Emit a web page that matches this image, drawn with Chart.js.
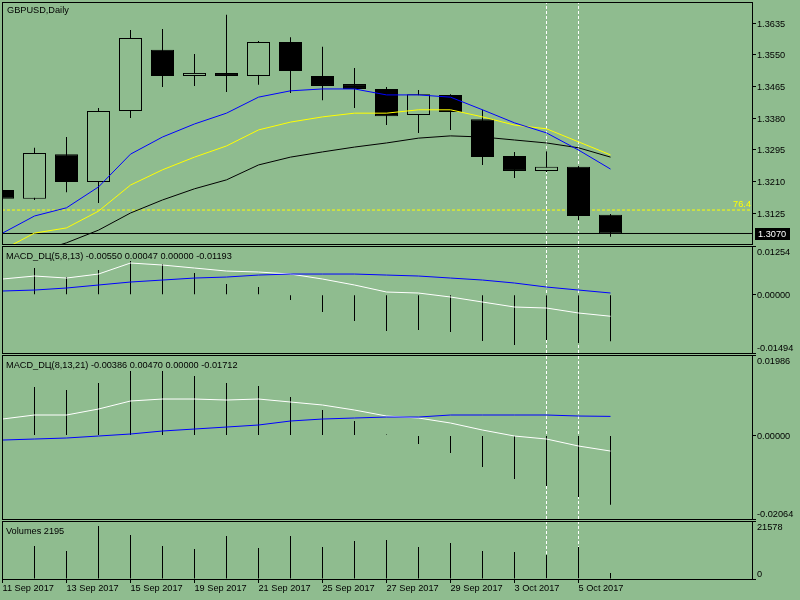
<!DOCTYPE html>
<html>
<head>
<meta charset="utf-8">
<title>GBPUSD,Daily</title>
<script src="https://cdn.jsdelivr.net/npm/chart.js@4.4.1/dist/chart.umd.min.js"></script>
<style>
  html, body { margin: 0; padding: 0; background: #8fbc8f; }
  #wrap { position: relative; width: 800px; height: 600px; overflow: hidden; }
  #wrap canvas { position: absolute; left: 0; }
</style>
</head>
<body>
<div id="wrap">
  <canvas id="price" width="800" height="245" style="top:0px"></canvas>
  <canvas id="macd1" width="800" height="109" style="top:245px"></canvas>
  <canvas id="macd2" width="800" height="166" style="top:354px"></canvas>
  <canvas id="vol" width="800" height="80" style="top:520px"></canvas>
</div>
<script>
// daily bars
const dates = ['11 Sep 2017', '12 Sep 2017', '13 Sep 2017', '14 Sep 2017', '15 Sep 2017',
  '18 Sep 2017', '19 Sep 2017', '20 Sep 2017', '21 Sep 2017', '22 Sep 2017',
  '25 Sep 2017', '26 Sep 2017', '27 Sep 2017', '28 Sep 2017', '29 Sep 2017',
  '2 Oct 2017', '3 Oct 2017', '4 Oct 2017', '5 Oct 2017', '6 Oct 2017'];
const dateTicks = [0, 2, 4, 6, 8, 10, 12, 14, 16, 18];

const opens  = [1.3187, 1.3163, 1.3283, 1.3208, 1.3399, 1.3563, 1.3493, 1.3501, 1.3493, 1.3584,
  1.3493, 1.3471, 1.3458, 1.3388, 1.3442, 1.3377, 1.3278, 1.3238, 1.3249, 1.3120];
const highs  = [1.3192, 1.3300, 1.3329, 1.3407, 1.3616, 1.3619, 1.3552, 1.3657, 1.3587, 1.3597,
  1.3571, 1.3514, 1.3463, 1.3455, 1.3444, 1.3402, 1.3289, 1.3291, 1.3251, 1.3122];
const lows   = [1.3158, 1.3160, 1.3181, 1.3152, 1.3380, 1.3463, 1.3466, 1.3450, 1.3469, 1.3447,
  1.3428, 1.3407, 1.3361, 1.3340, 1.3348, 1.3254, 1.3219, 1.3235, 1.3106, 1.3061];
const closes = [1.3163, 1.3286, 1.3208, 1.3399, 1.3595, 1.3493, 1.3501, 1.3493, 1.3584, 1.3506,
  1.3466, 1.3458, 1.3385, 1.3444, 1.3396, 1.3275, 1.3238, 1.3249, 1.3117, 1.3070];

// moving averages
const maBlue   = [1.3071, 1.3117, 1.3139, 1.3195, 1.3283, 1.3329, 1.3364, 1.3393, 1.3436, 1.3453,
  1.3458, 1.3458, 1.3442, 1.3442, 1.3436, 1.3402, 1.3367, 1.3340, 1.3294, 1.3243];
const maYellow = [1.3026, 1.3071, 1.3085, 1.3130, 1.3200, 1.3241, 1.3275, 1.3305, 1.3348, 1.3369,
  1.3383, 1.3393, 1.3393, 1.3402, 1.3402, 1.3383, 1.3361, 1.3351, 1.3316, 1.3281];
const maBlack  = [1.2991, 1.3018, 1.3045, 1.3079, 1.3125, 1.3160, 1.3190, 1.3214, 1.3254, 1.3275,
  1.3289, 1.3302, 1.3313, 1.3326, 1.3332, 1.3329, 1.3321, 1.3313, 1.3300, 1.3275];

const priceTicks = [1.3125, 1.3210, 1.3295, 1.3380, 1.3465, 1.3550, 1.3635];
const fiboLevel = 1.3133;
const fiboLabel = '76.4';
const lastPrice = 1.3070;
const markedBars = [17, 18];

// MACD_DЦ(5,8,13)
const macd1Main   = [0.00406, 0.00483, 0.00431, 0.00534, 0.00817, 0.00765, 0.00688, 0.00611, 0.00586, 0.00534,
  0.00406, 0.00252, 0.00072, 0.00046, -0.00056, -0.00185, -0.00313, -0.00339, -0.00467, -0.00550];
const macd1Signal = [0.00098, 0.00123, 0.00175, 0.00252, 0.00329, 0.00380, 0.00431, 0.00457, 0.00508, 0.00534,
  0.00534, 0.00534, 0.00508, 0.00483, 0.00431, 0.00380, 0.00303, 0.00200, 0.00123, 0.00047];
const macd1Hist   = [0.00640, 0.00688, 0.00457, 0.00637, 0.00868, 0.00791, 0.00560, 0.00277, 0.00200, -0.00134,
  -0.00442, -0.00673, -0.00930, -0.00904, -0.00955, -0.01186, -0.01289, -0.01160, -0.01238, -0.01193];
const macd1Ticks = [0.01254, 0, -0.01494];

// MACD_DЦ(8,13,21)
const macd2Main   = [0.00405, 0.00504, 0.00504, 0.00652, 0.00850, 0.00899, 0.00899, 0.00874, 0.00899, 0.00825,
  0.00751, 0.00627, 0.00479, 0.00430, 0.00306, 0.00133, -0.00015, -0.00089, -0.00262, -0.00386];
const macd2Signal = [-0.00114, -0.00089, -0.00064, -0.00015, 0.00035, 0.00109, 0.00158, 0.00207, 0.00257, 0.00356,
  0.00405, 0.00430, 0.00454, 0.00454, 0.00504, 0.00504, 0.00504, 0.00504, 0.00479, 0.00470];
const macd2Hist   = [0.01250, 0.01195, 0.01121, 0.01294, 0.01590, 0.01590, 0.01467, 0.01294, 0.01220, 0.00948,
  0.00627, 0.00356, 0.00020, -0.00212, -0.00435, -0.00780, -0.01077, -0.01250, -0.01521, -0.01712];
const macd2Ticks = [0.01986, 0, -0.02064];

const volumes = [11000, 12276, 10416, 19716, 16368, 12276, 11160, 15996, 11532, 15996,
  11904, 14136, 14508, 11904, 13392, 10416, 10044, 8928, 11904, 2195];
const volTicks = [21578, 0];

const BG = '#8fbc8f';
const FAMILY = '"Liberation Sans", Arial, sans-serif';
const FONT = '9.2px ' + FAMILY;
// half a bar step of slack so 1px sticks land on whole pixels, 32px per bar
const X_MIN = -1 / 64;
const X_MAX = X_MIN + 750 / 32;

const f5 = v => v.toFixed(5);
const idx = dates.map((_, i) => i);
const pts = arr => arr.map((v, i) => ({x: i, y: v}));

function lineSet(arr, color, order) {
  return {type: 'line', data: pts(arr), borderColor: color, borderWidth: 1,
    pointRadius: 0, tension: 0, fill: false, order};
}
function stickSet(arr, order) {
  return {type: 'bar', data: pts(arr), backgroundColor: '#000', borderWidth: 0,
    barThickness: 1, grouped: false, inflateAmount: 0, order};
}
function hLine(level, color, dash, order) {
  return {type: 'line', data: [{x: X_MIN, y: level}, {x: X_MAX, y: level}], borderColor: color,
    borderWidth: 1, borderDash: dash, pointRadius: 0, order};
}
function markerSets(min, max) {
  return markedBars.map(b => ({type: 'line', data: [{x: b, y: min}, {x: b, y: max}],
    borderColor: '#fff', borderWidth: 1, borderDash: [3, 2], pointRadius: 0, order: 20}));
}

// frame, panel title, right axis labels
const panelDecor = {
  id: 'panelDecor',
  afterDraw(chart, args, opts) {
    const {ctx, chartArea: a} = chart;
    const y = chart.scales.y;
    ctx.save();
    ctx.strokeStyle = '#000';
    ctx.lineWidth = 1;
    ctx.strokeRect(a.left + 0.5, a.top + 0.5, a.right - a.left, a.bottom - a.top);
    ctx.font = FONT;
    ctx.fillStyle = '#000';
    ctx.textAlign = 'left';
    ctx.textBaseline = 'alphabetic';
    ctx.fillText(opts.title, a.left + opts.titleX, a.top + opts.titleY);
    opts.ticks.forEach(v => {
      const py = y.getPixelForValue(v);
      let off = 3.5;
      if (opts.inset && v === y.max) off = 9;
      if (opts.inset && v === y.min) off = -2;
      ctx.fillText(opts.fmt(v), a.right + 5, py + off);
    });
    if (opts.extra) opts.extra(chart, ctx);
    ctx.restore();
  }
};

function xScale(show) {
  return {
    type: 'linear', min: X_MIN, max: X_MAX, display: show, position: 'bottom',
    offset: false,
    afterBuildTicks: s => { s.ticks = dateTicks.map(v => ({value: v})); },
    afterFit: s => { s.height = show ? 21 : 0; },
    grid: {drawOnChartArea: false, drawTicks: true, tickLength: 4, color: '#000', offset: false},
    border: {display: false},
    ticks: {callback: v => dates[v], align: 'start', maxRotation: 0, minRotation: 0,
      autoSkip: false, padding: 0, color: '#000', font: {family: FAMILY, size: 9.2}}
  };
}
function yScale(min, max, ticks) {
  return {
    type: 'linear', position: 'right', min, max,
    afterBuildTicks: s => { s.ticks = ticks.map(v => ({value: v})); },
    afterFit: s => { s.width = 48; },
    grid: {drawOnChartArea: false, drawTicks: true, tickLength: 4, color: '#000'},
    border: {display: false},
    ticks: {display: false}
  };
}
function makePanel(id, datasets, y, showX, pad, decor) {
  return new Chart(document.getElementById(id), {
    type: 'bar',
    data: {datasets},
    options: {
      responsive: false, animation: false, events: [], devicePixelRatio: 1,
      layout: {padding: {left: 2, right: 0, top: pad[0], bottom: pad[1]}},
      scales: {x: xScale(showX), y},
      plugins: {legend: {display: false}, tooltip: {enabled: false}, panelDecor: decor}
    },
    plugins: [panelDecor]
  });
}

// price panel
const P_MIN = 1.30418, P_MAX = 1.36914;
makePanel('price', [
  lineSet(maBlue, '#0000ff', 1),
  lineSet(maYellow, '#ffff00', 2),
  lineSet(maBlack, '#000000', 3),
  {type: 'bar', data: idx.map(i => ({x: i, y: [opens[i], closes[i]]})),
    backgroundColor: idx.map(i => closes[i] < opens[i] ? '#000' : BG),
    borderColor: '#000', borderWidth: 1, borderSkipped: false,
    barThickness: 23, grouped: false, inflateAmount: 0, order: 5},
  {type: 'bar', data: idx.map(i => ({x: i, y: [lows[i], highs[i]]})),
    backgroundColor: '#000', borderWidth: 0, barThickness: 1, grouped: false, inflateAmount: 0, order: 6},
  hLine(fiboLevel, '#ffff00', [3, 2], 8),
  hLine(lastPrice, '#000000', [], 8),
  ...markerSets(P_MIN, P_MAX)
], yScale(P_MIN, P_MAX, priceTicks), false, [2, 1], {
  title: 'GBPUSD,Daily', titleX: 5, titleY: 11,
  ticks: priceTicks, fmt: v => v.toFixed(4), inset: false,
  extra(chart, ctx) {
    const a = chart.chartArea, y = chart.scales.y;
    const fy = y.getPixelForValue(fiboLevel);
    ctx.fillStyle = '#ffff00';
    ctx.textAlign = 'right';
    ctx.fillText(fiboLabel, a.right - 1, fy - 3);
    const py = y.getPixelForValue(lastPrice);
    ctx.fillStyle = '#000';
    ctx.fillRect(a.right + 3, Math.round(py - 5.5), 35, 12);
    ctx.fillStyle = '#fff';
    ctx.textAlign = 'left';
    ctx.fillText(lastPrice.toFixed(4), a.right + 6, py + 3.5);
  }
});

// MACD panels
const M1_MIN = -0.01494, M1_MAX = 0.01254;
makePanel('macd1', [
  lineSet(macd1Signal, '#0000ff', 1),
  lineSet(macd1Main, '#ffffff', 2),
  stickSet(macd1Hist, 3),
  ...markerSets(M1_MIN, M1_MAX)
], yScale(M1_MIN, M1_MAX, macd1Ticks), false, [1, 1], {
  title: 'MACD_DЦ(5,8,13) ' + f5(macd1Main.at(-1)) + ' ' + f5(macd1Signal.at(-1)) + ' 0.00000 ' + f5(macd1Hist.at(-1)),
  titleX: 4, titleY: 13, ticks: macd1Ticks, fmt: f5, inset: true
});

const M2_MIN = -0.02064, M2_MAX = 0.01986;
makePanel('macd2', [
  lineSet(macd2Signal, '#0000ff', 1),
  lineSet(macd2Main, '#ffffff', 2),
  stickSet(macd2Hist, 3),
  ...markerSets(M2_MIN, M2_MAX)
], yScale(M2_MIN, M2_MAX, macd2Ticks), false, [1, 1], {
  title: 'MACD_DЦ(8,13,21) ' + f5(macd2Main.at(-1)) + ' ' + f5(macd2Signal.at(-1)) + ' 0.00000 ' + f5(macd2Hist.at(-1)),
  titleX: 4, titleY: 13, ticks: macd2Ticks, fmt: f5, inset: true
});

// volumes
const V_MAX = 21578;
makePanel('vol', [
  stickSet(volumes, 3),
  ...markerSets(0, V_MAX)
], yScale(0, V_MAX, volTicks), true, [1, 0], {
  title: 'Volumes ' + volumes.at(-1), titleX: 4, titleY: 13,
  ticks: volTicks, fmt: v => String(v), inset: true
});
</script>
</body>
</html>
